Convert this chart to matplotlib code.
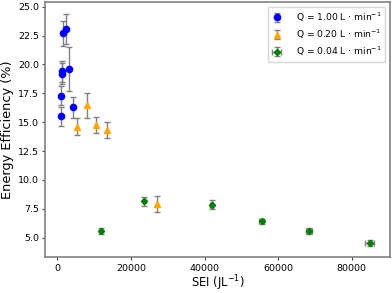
import matplotlib
matplotlib.use("Agg")
import matplotlib.pyplot as plt
import numpy as np

# Q = 1.00 L/min
sei_high = [920, 1000, 1250, 1350, 1630, 2450, 3100, 4350]
eff_high = [15.5, 17.3, 19.2, 19.4, 22.7, 23.1, 19.6, 16.3]
err_high = [0.8, 0.85, 0.9, 0.9, 1.1, 1.3, 1.9, 0.9]

# Q = 0.20 L/min
sei_mid = [5300, 8000, 10500, 13400, 27000]
eff_mid = [14.6, 16.45, 14.75, 14.3, 7.9]
err_mid = [0.75, 1.1, 0.7, 0.7, 0.72]

# Q = 0.04 L/min
sei_low = [11800, 23500, 41900, 55500, 68400, 84900]
eff_low = [5.6, 8.15, 7.85, 6.4, 5.55, 4.55]
err_low = [0.25, 0.4, 0.4, 0.25, 0.25, 0.25]
xerr_low = [200, 300, 400, 600, 800, 1250]

labels = [r"Q = 1.00 L $\cdot$ min$^{-1}$",
          r"Q = 0.20 L $\cdot$ min$^{-1}$",
          r"Q = 0.04 L $\cdot$ min$^{-1}$"]

fig = plt.figure(figsize=(3.92, 2.93), dpi=100)
ax = fig.add_axes([0.115, 0.122, 0.88, 0.871])

ebar = dict(ecolor="gray", elinewidth=1.0, capsize=2, capthick=1.0, linestyle="none")
ax.errorbar(sei_high, eff_high, yerr=err_high, marker="o", color="blue",
            markersize=4.5, label=labels[0], **ebar)
ax.errorbar(sei_mid, eff_mid, yerr=err_mid, marker="^", color="orange",
            markersize=4.5, label=labels[1], **ebar)
ax.errorbar(sei_low, eff_low, yerr=err_low, xerr=xerr_low, marker="D", color="green",
            markersize=3.2, label=labels[2], **ebar)

ax.set_yticks(np.arange(5, 25.1, 2.5))
ax.set_xticks(np.arange(0, 80001, 20000))
ax.set_xlabel(r"SEI (JL$^{-1}$)", fontsize=8.3, labelpad=1)
ax.set_ylabel("Energy Efficiency (%)", fontsize=9.3, labelpad=3)
ax.tick_params(labelsize=6.8, color="#444444", length=2.5, width=0.8, pad=2)
for s in ax.spines.values():
    s.set_color("gray")
    s.set_linewidth(1.2)
ax.legend(loc="upper right", fontsize=6.6, handlelength=1.2, handletextpad=1.5,
          labelspacing=0.4, borderaxespad=0.5)

fig.savefig("out.png", dpi=100)
